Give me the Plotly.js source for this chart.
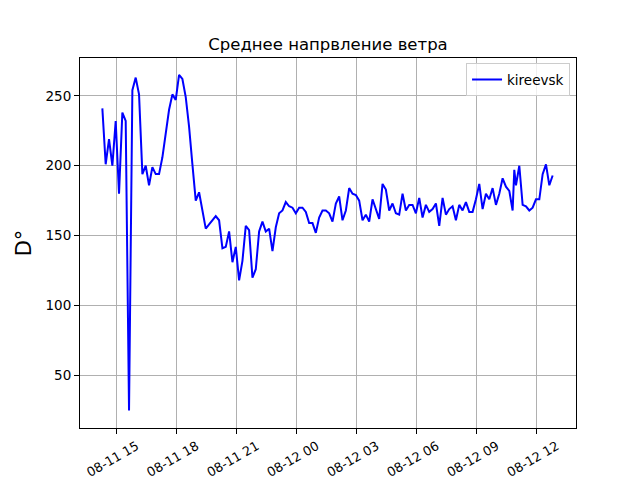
<!DOCTYPE html>
<html>
<head>
<meta charset="utf-8">
<script src="https://cdn.plot.ly/plotly-3.0.1.min.js"></script>
<style>html,body{margin:0;padding:0;background:#fff;}#chart{width:640px;height:480px;}</style>
</head>
<body>
<div id="chart"></div>
<script>
const seriesName = "kireevsk";
const chartTitle = "Среднее напрвление ветра";
const yTitle = "D°";

const times = [
  "2024-08-11 14:17","2024-08-11 14:27","2024-08-11 14:37","2024-08-11 14:47","2024-08-11 14:57","2024-08-11 15:07",
  "2024-08-11 15:17","2024-08-11 15:27","2024-08-11 15:37","2024-08-11 15:47","2024-08-11 15:57","2024-08-11 16:07",
  "2024-08-11 16:17","2024-08-11 16:27","2024-08-11 16:37","2024-08-11 16:47","2024-08-11 16:57","2024-08-11 17:07",
  "2024-08-11 17:17","2024-08-11 17:27","2024-08-11 17:37","2024-08-11 17:47","2024-08-11 17:57","2024-08-11 18:07",
  "2024-08-11 18:17","2024-08-11 18:27","2024-08-11 18:37","2024-08-11 18:47","2024-08-11 18:57","2024-08-11 19:07",
  "2024-08-11 19:17","2024-08-11 19:27","2024-08-11 19:37","2024-08-11 19:47","2024-08-11 19:57","2024-08-11 20:07",
  "2024-08-11 20:17","2024-08-11 20:27","2024-08-11 20:37","2024-08-11 20:47","2024-08-11 20:57","2024-08-11 21:07",
  "2024-08-11 21:17","2024-08-11 21:27","2024-08-11 21:37","2024-08-11 21:47","2024-08-11 21:57","2024-08-11 22:07",
  "2024-08-11 22:17","2024-08-11 22:27","2024-08-11 22:37","2024-08-11 22:47","2024-08-11 22:57","2024-08-11 23:07",
  "2024-08-11 23:17","2024-08-11 23:27","2024-08-11 23:37","2024-08-11 23:47","2024-08-11 23:57","2024-08-12 00:07",
  "2024-08-12 00:17","2024-08-12 00:27","2024-08-12 00:37","2024-08-12 00:47","2024-08-12 00:57","2024-08-12 01:07",
  "2024-08-12 01:17","2024-08-12 01:27","2024-08-12 01:37","2024-08-12 01:47","2024-08-12 01:57","2024-08-12 02:07",
  "2024-08-12 02:17","2024-08-12 02:27","2024-08-12 02:37","2024-08-12 02:47","2024-08-12 02:57","2024-08-12 03:07",
  "2024-08-12 03:17","2024-08-12 03:27","2024-08-12 03:37","2024-08-12 03:47","2024-08-12 03:57","2024-08-12 04:07",
  "2024-08-12 04:17","2024-08-12 04:27","2024-08-12 04:37","2024-08-12 04:47","2024-08-12 04:57","2024-08-12 05:07",
  "2024-08-12 05:17","2024-08-12 05:27","2024-08-12 05:37","2024-08-12 05:47","2024-08-12 05:57","2024-08-12 06:07",
  "2024-08-12 06:17","2024-08-12 06:27","2024-08-12 06:37","2024-08-12 06:47","2024-08-12 06:57","2024-08-12 07:07",
  "2024-08-12 07:17","2024-08-12 07:27","2024-08-12 07:37","2024-08-12 07:47","2024-08-12 07:57","2024-08-12 08:07",
  "2024-08-12 08:17","2024-08-12 08:27","2024-08-12 08:37","2024-08-12 08:47","2024-08-12 08:57","2024-08-12 09:07",
  "2024-08-12 09:17","2024-08-12 09:27","2024-08-12 09:37","2024-08-12 09:47","2024-08-12 09:57","2024-08-12 10:07",
  "2024-08-12 10:17","2024-08-12 10:27","2024-08-12 10:37","2024-08-12 10:47","2024-08-12 10:52","2024-08-12 10:57","2024-08-12 11:07",
  "2024-08-12 11:17","2024-08-12 11:27","2024-08-12 11:37","2024-08-12 11:47","2024-08-12 11:57","2024-08-12 12:07",
  "2024-08-12 12:17","2024-08-12 12:27","2024-08-12 12:37","2024-08-12 12:47"
];

const direction = [
  241, 201, 219, 200, 232, 180,
  238, 232, 25, 254, 263, 251,
  194, 200, 186, 199, 194, 194,
  206, 225, 240, 251, 247, 265,
  262, 249, 228, 201, 175, 181,
  168, 155, 158, 161, 164, 161,
  141, 142, 153, 131, 142, 118,
  132, 157, 154, 120, 126, 153,
  160, 153, 155, 139, 156, 166,
  168, 174, 171, 170, 166, 170,
  170, 167, 159, 159, 152, 163,
  168, 168, 166, 160, 173, 178,
  161, 168, 184, 180, 179, 175,
  161, 165, 160, 176, 169, 162,
  187, 183, 168, 173, 166, 165,
  180, 168, 172, 172, 166, 177,
  163, 172, 167, 169, 173, 157,
  177, 165, 169, 171, 161, 172,
  168, 174, 167, 167, 176, 187,
  169, 180, 176, 184, 172, 180,
  191, 185, 182, 168, 197, 186, 200,
  172, 171, 168, 170, 176, 176,
  194, 201, 186, 193
];

const yTickVals = [50, 100, 150, 200, 250];

const font = "DejaVu Sans, sans-serif";

const trace = {
  x: times,
  y: direction,
  type: "scatter",
  mode: "lines",
  name: seriesName,
  line: {color: "#0000ff", width: 2}
};

const layout = {
  width: 640,
  height: 480,
  paper_bgcolor: "#ffffff",
  plot_bgcolor: "#ffffff",
  margin: {l: 80, r: 64, t: 58, b: 52},
  font: {family: font, size: 13.5, color: "#000"},
  title: {
    text: chartTitle,
    font: {family: font, size: 16.5, color: "#000"},
    xref: "paper", x: 0.5, xanchor: "center",
    y: 1 - 44 / 480, yanchor: "middle", yref: "container"
  },
  showlegend: true,
  legend: {
    x: 0.988, xanchor: "right",
    y: 0.986, yanchor: "top",
    bgcolor: "rgba(255,255,255,0.8)",
    bordercolor: "#cccccc", borderwidth: 1,
    tracegroupgap: 0,
    font: {family: font, size: 13.5, color: "#000"}
  },
  xaxis: {
    type: "date",
    range: ["2024-08-11 13:10", "2024-08-12 13:57"],
    tick0: "2024-08-11 00:00",
    dtick: 3 * 3600 * 1000,
    tickformat: "%m-%d %H",
    tickangle: -30,
    ticklabelshift: 20,
    ticklabelstandoff: 0,
    ticks: "outside", ticklen: 5, tickwidth: 1, tickcolor: "#000",
    showgrid: true, gridcolor: "#b0b0b0", gridwidth: 1,
    showline: true, linecolor: "#000", linewidth: 1, mirror: true,
    zeroline: false,
    tickfont: {family: font, size: 12.8, color: "#000"}
  },
  yaxis: {
    range: [12.5, 277],
    tickvals: yTickVals,
    ticks: "outside", ticklen: 5, tickwidth: 1, tickcolor: "#000",
    showgrid: true, gridcolor: "#b0b0b0", gridwidth: 1,
    showline: true, linecolor: "#000", linewidth: 1, mirror: true,
    zeroline: false,
    tickfont: {family: font, size: 13.5, color: "#000"},
    title: {text: yTitle, font: {family: font, size: 21, color: "#000"}, standoff: 8}
  }
};

Plotly.newPlot("chart", [trace], layout, {displayModeBar: false, staticPlot: true});
</script>
</body>
</html>
